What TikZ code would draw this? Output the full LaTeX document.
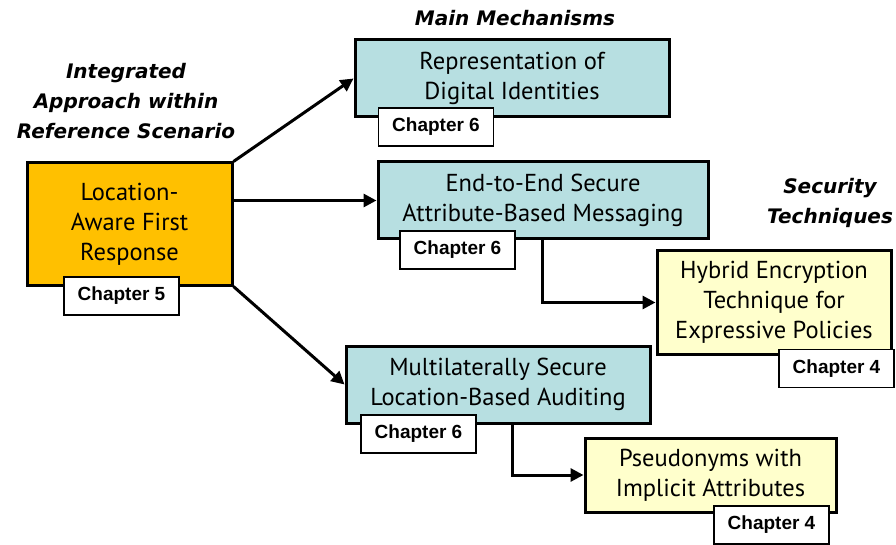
\documentclass[tikz,border=0pt]{standalone}
\usepackage{fontspec}
\setmainfont{PT Sans}
\newfontfamily\chapfont{Liberation Sans}
\newfontfamily\headfont{DejaVu Sans}
\usetikzlibrary{arrows.meta}
\definecolor{orangefill}{HTML}{FFC000}
\definecolor{tealfill}{HTML}{B7DFE1}
\definecolor{yellowfill}{HTML}{FFFFCC}
\tikzset{
  box/.style={draw=black, line width=3pt, align=center, inner sep=0pt,
    font=\fontsize{24.5}{30}\selectfont},
  mainbox/.style={box, fill=orangefill},
  mechbox/.style={box, fill=tealfill},
  techbox/.style={box, fill=yellowfill},
  chapbox/.style={draw=black, line width=1.5pt, fill=white, inner sep=0pt,
    minimum width=115pt, minimum height=38pt,
    font=\chapfont\bfseries\fontsize{19}{22}\selectfont},
  heading/.style={align=center, inner sep=0pt,
    font=\headfont\bfseries\itshape\fontsize{20}{30}\selectfont},
  link/.style={line width=3pt, -{Triangle[length=13pt,width=13pt]}},
}
\begin{document}
\begin{tikzpicture}[x=1pt,y=-1pt]
\useasboundingbox (0,0) rectangle (896,545);

% headings
\node[heading] (hmain) at (515,18) {Main Mechanisms};
\node[heading] (hint) at (126,101) {Integrated\\Approach within\\Reference Scenario};
\node[heading] (hsec) at (830,203) {Security\\Techniques};

% boxes
\node[mainbox, minimum width=205pt, minimum height=122pt] (lafr) at (129.5,224)
  {Location-\\Aware First\\Response};
\node[mechbox, minimum width=314pt, minimum height=77pt] (rep) at (512,78.5)
  {Representation of\\Digital Identities};
\node[mechbox, minimum width=330pt, minimum height=77pt] (e2e) at (543,200.5)
  {End-to-End Secure\\Attribute-Based Messaging};
\node[techbox, minimum width=234pt, minimum height=103pt] (hyb) at (774,302.5)
  {Hybrid Encryption\\Technique for\\Expressive Policies};
\node[mechbox, minimum width=304pt, minimum height=77pt] (aud) at (498,384.5)
  {Multilaterally Secure\\Location-Based Auditing};
\node[techbox, minimum width=251pt, minimum height=74pt] (pse) at (710.5,475)
  {Pseudonyms with\\Implicit Attributes};

% chapter tags
\node[chapbox] (c5) at (121.5,296) {Chapter 5};
\node[chapbox] (c6a) at (436,127) {Chapter 6};
\node[chapbox] (c6b) at (457.5,250) {Chapter 6};
\node[chapbox] (c4a) at (836.5,368.5) {Chapter 4};
\node[chapbox] (c6c) at (418.5,434) {Chapter 6};
\node[chapbox] (c4b) at (771.5,525) {Chapter 4};

% connectors
\draw[link] (lafr.north east) -- (rep.west);
\draw[link] (lafr.east |- e2e.west) -- (e2e.west);
\draw[link] (lafr.south east) -- (aud.west);
\draw[link] (e2e.south -| 542,0) |- (hyb.west);
\draw[link] (aud.south -| 512,0) |- (pse.west);
\end{tikzpicture}
\end{document}
